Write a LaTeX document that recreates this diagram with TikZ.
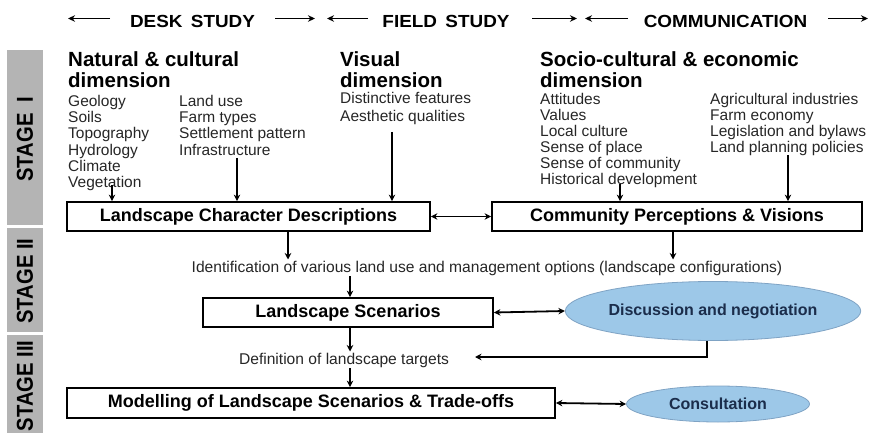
\documentclass[tikz,border=0pt]{standalone}
\usepackage{fontspec}
\setmainfont{Liberation Sans}
\newfontfamily\hdrfont[FakeStretch=1.08,WordSpace=1.6]{Liberation Sans}
\newfontfamily\stgfont[FakeStretch=0.88]{Liberation Sans}
\usepackage{tikz}
\usetikzlibrary{positioning,arrows.meta,shapes.geometric}
\definecolor{stgray}{HTML}{B4B4B4}
\definecolor{ovlblue}{HTML}{9DC8E8}
\definecolor{ovledge}{HTML}{7FA3C4}
\definecolor{ovltext}{HTML}{1B2D4B}
\tikzset{
  arr/.style={-{Stealth[length=6.5pt,width=6.5pt]},line width=1.8pt},
  darr/.style={{Stealth[length=6.5pt,width=6.5pt]}-{Stealth[length=6.5pt,width=6.5pt]},line width=1.8pt},
  hdarr/.style={-{Stealth[length=7pt,width=6.5pt]},line width=1.7pt},
  stagebar/.style={fill=stgray},
  stglbl/.style={rotate=90,inner sep=0pt,font=\stgfont\fontsize{23}{23}\selectfont\bfseries},
  hdr/.style={inner sep=0pt,font=\hdrfont\fontsize{17.5}{18}\selectfont\bfseries},
  dimhd/.style={anchor=north west,align=left,inner sep=0pt,font=\fontsize{20.5}{21}\selectfont\bfseries},
  itm/.style={anchor=north west,align=left,inner sep=0pt,text=black!85,font=\fontsize{15.5}{16.2}\selectfont},
  boxn/.style={draw,line width=1.8pt,inner sep=0pt,font=\fontsize{18}{20}\selectfont\bfseries}, % process box
  ovl/.style={ellipse,fill=ovlblue,draw=ovledge,line width=0.8pt,inner sep=0pt,text=ovltext,
    font=\fontsize{16}{18}\selectfont\bfseries},                                             % communication oval
  optxt/.style={inner sep=1pt,text=black!85,font=\fontsize{15.6}{17}\selectfont},
}
\begin{document}
\begin{tikzpicture}[x=1pt,y=-1pt]
  \useasboundingbox (0,0) rectangle (873,433);
  % stage bars on the left
  \fill[stagebar] (7,50) rectangle (43,225);
  \fill[stagebar] (7,228) rectangle (43,332);
  \fill[stagebar] (7,335) rectangle (43,433);
  \node[stglbl] (st1) at (25,139) {STAGE\ \ I};
  \node[stglbl] (st2) at (25,281) {STAGE\ II};
  \node[stglbl] (st3) at (25,386) {STAGE\ III};
  % header line
  \node[hdr] (desk) at (192.5,21) {DESK STUDY};
  \node[hdr] (field) at (446,21) {FIELD STUDY};
  \node[hdr] (comm) at (725.5,21) {COMMUNICATION};
  \foreach \xs/\xe in {110/68,275/315,368/327,532/577,628/585,828/868}
    \draw[hdarr] (\xs,18.5) -- (\xe,18.5);
  % stage I: the three dimensions
  \node[dimhd] (natd) at (68,51) {Natural \& cultural\\dimension};
  \node[itm] (natl) at (68,95) {Geology\\Soils\\Topography\\Hydrology\\Climate\\Vegetation};
  \node[itm] (natr) at (179,95) {Land use\\Farm types\\Settlement pattern\\Infrastructure};
  \node[dimhd] (visd) at (340,51) {Visual\\dimension};
  \node[itm,font=\fontsize{15.5}{18}\selectfont] (visl) at (340,92) {Distinctive features\\Aesthetic qualities};
  \node[dimhd] (socd) at (540,51) {Socio-cultural \& economic\\dimension};
  \node[itm,font=\fontsize{15.5}{16}\selectfont] (soc1) at (540,93)
    {Attitudes\\Values\\Local culture\\Sense of place\\Sense of community\\Historical development};
  \node[itm,font=\fontsize{15.5}{16}\selectfont] (soc2) at (710,93)
    {Agricultural industries\\Farm economy\\Legislation and bylaws\\Land planning policies};
  \node[boxn,minimum width=363,minimum height=29] (lcd) at (248.5,216.5) {Landscape Character Descriptions};
  \node[boxn,minimum width=370,minimum height=29] (cpv) at (677,216.5) {Community Perceptions \& Visions};
  \coordinate (veg) at (112,185);
  \coordinate (infra) at (237,158);
  \coordinate (visu) at (392,132);
  \coordinate (hist) at (620,184);
  \coordinate (lplan) at (788,155);
  \foreach \c in {veg,infra,visu}
    \draw[arr] (\c) -- (\c |- lcd.north);
  \foreach \c in {hist,lplan}
    \draw[arr] (\c) -- (\c |- cpv.north);
  \draw[darr] (lcd.east) -- (cpv.west);
  % stage II
  \node[optxt,anchor=base] (ident) at (487,272)
    {Identification of various land use and management options (landscape configurations)};
  \draw[arr] ([xshift=39.5pt]lcd.south) -- ([xshift=39.5pt]lcd.south |- ident.north);
  \draw[arr] ([xshift=-4pt]cpv.south) -- ([xshift=-4pt]cpv.south |- ident.north);
  \node[boxn,minimum width=290,minimum height=29] (ls) at (348,312.5) {Landscape Scenarios};
  \draw[arr] ([xshift=2pt]ls.north |- ident.south) -- ([xshift=2pt]ls.north);
  \node[ovl,minimum width=260,minimum height=59] (dn) at (713,311) {Discussion and negotiation};
  \draw[darr] (ls.east) -- (dn.west);
  % stage III
  \node[optxt,anchor=base] (defn) at (344,364) {Definition of landscape targets};
  \draw[arr] ([xshift=2pt]ls.south) -- ([xshift=2pt]ls.south |- defn.north);
  \coordinate (tgt) at (475,357);
  \draw[arr] ([xshift=-6pt]dn.south) |- (tgt);
  \node[boxn,minimum width=488,minimum height=30] (mls) at (311,403)
    {Modelling of Landscape Scenarios \& Trade-offs};
  \draw[arr] ([xshift=2pt]ls.south |- defn.south) -- ([xshift=2pt]ls.south |- mls.north);
  \node[ovl,minimum width=183,minimum height=36] (cons) at (718,404) {Consultation};
  \draw[darr] (mls.east) -- (cons.west);
\end{tikzpicture}
\end{document}
